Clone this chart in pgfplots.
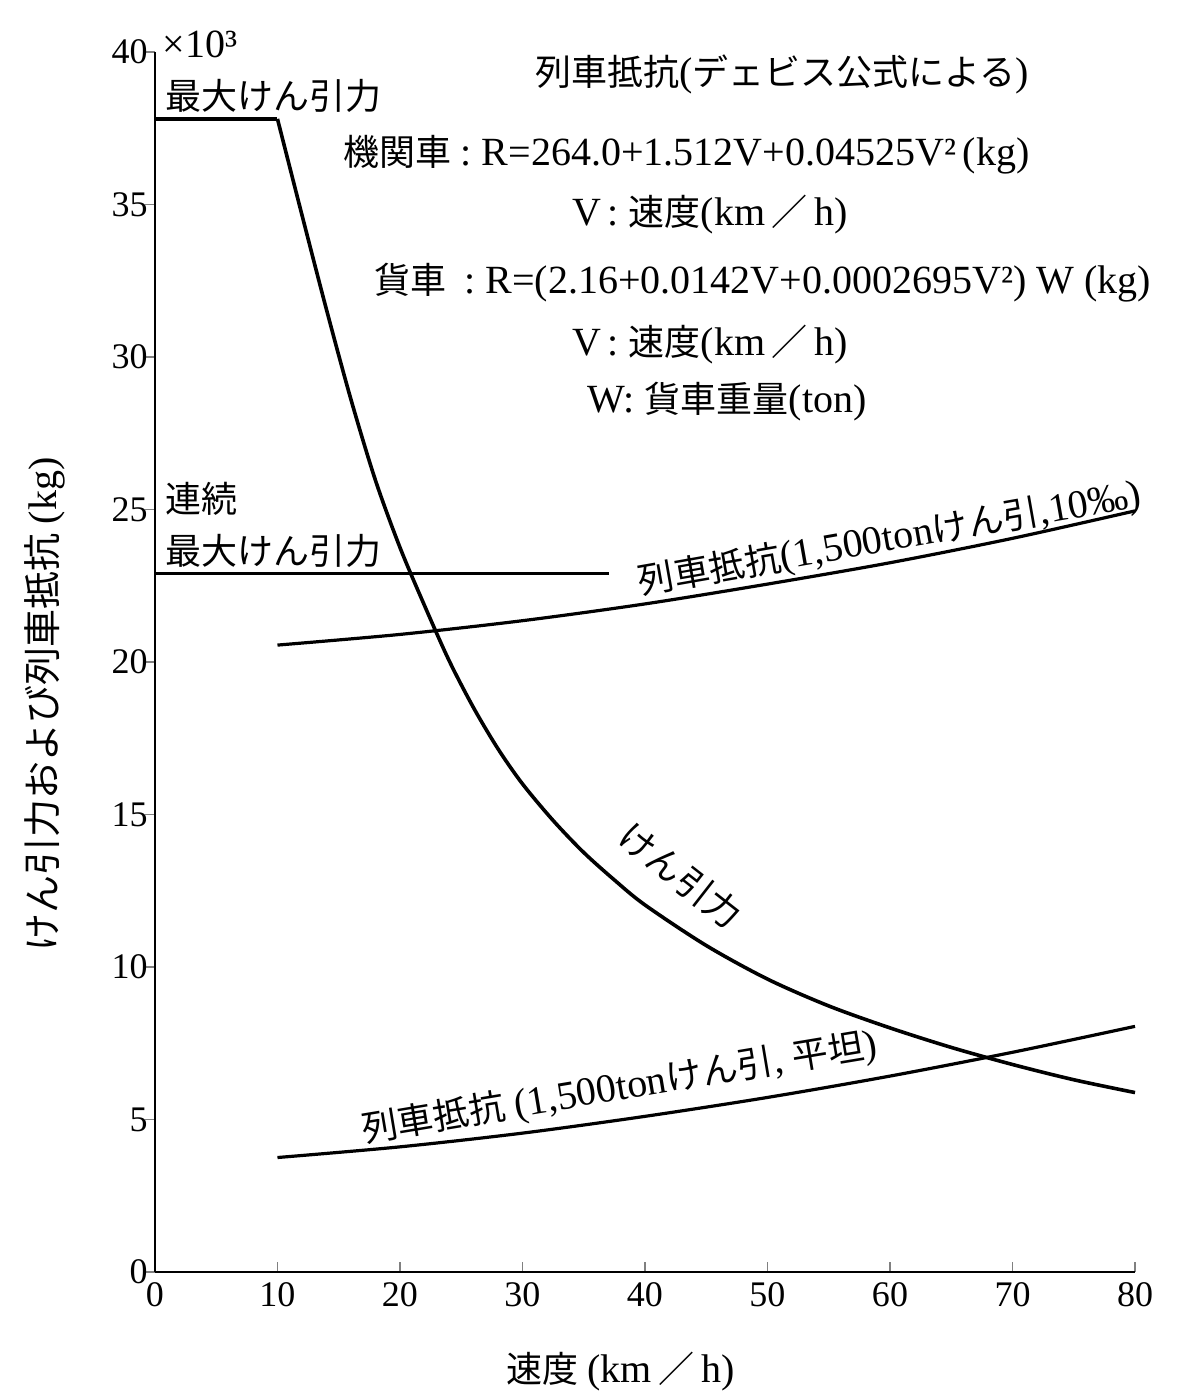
\documentclass[border=0pt]{standalone}
\usepackage{fontspec}
\setmainfont{Liberation Serif}
\newfontfamily\jp{Noto Sans CJK JP}
\usepackage{pgfplots}
\pgfplotsset{compat=1.18}
\newcommand{\lt}[1]{{\fontsize{20}{22}\selectfont #1}}
\begin{document}
\begin{tikzpicture}
\begin{axis}[
  width=490pt, height=610pt, scale only axis,
  xmin=0, xmax=80, ymin=0, ymax=40,
  axis lines=left,
  axis line style={line width=1pt,-},
  xtick={0,10,...,80}, ytick={0,5,...,40},
  tick align=inside,
  major tick length=5pt,
  ytick style={xshift=-5pt, line width=0.8pt},
  xtick style={line width=0.8pt},
  ticklabel style={font=\fontsize{18}{18}\selectfont},
  yticklabel style={xshift=-3.5pt},
  xticklabel style={yshift=-5pt},
  /pgf/number format/assume math mode=true,
  clip=false,
]
\path (axis cs:-12.65,-3.97) rectangle (axis cs:83.43,41.7);
% traction
\addplot[black, line width=1.8pt] coordinates {(0,37.8)(10,37.8)};
\addplot[black, line width=1.8pt, smooth] coordinates {
(10,37.8)(12,34.65)(14,31.55)(16,28.6)(18,25.95)(20,23.75)(22,21.85)(24,20.05)
(26,18.5)(28,17.15)(30,16.0)(32.5,14.8)(35,13.75)(37.5,12.85)(40,12.03)
(45,10.7)(50,9.6)(55,8.72)(60,8.0)(65,7.36)(70,6.8)(75,6.3)(80,5.88)};
% continuous max traction
\addplot[black, line width=1.3pt] coordinates {(0,22.9)(37.1,22.9)};
% resistance 10 permille
\addplot[black, line width=1.6pt, smooth] coordinates {
(10,20.55)(20,20.9)(30,21.35)(40,21.9)(50,22.55)(60,23.25)(70,24.05)(80,24.95)};
% resistance flat
\addplot[black, line width=1.6pt, smooth] coordinates {
(10,3.75)(20,4.1)(30,4.55)(40,5.1)(50,5.72)(60,6.42)(70,7.2)(80,8.05)};

\tikzset{every node/.style={font=\fontsize{18}{20}\selectfont, inner sep=0pt}}
\node[anchor=base west] at (axis cs:0.6,39.8) {\lt{×10³}};
\node[anchor=base west] at (axis cs:0.8,38.1) {\jp 最大けん引力};
\node[anchor=base west] at (axis cs:0.8,24.9) {\jp 連続};
\node[anchor=base west] at (axis cs:0.8,23.2) {\jp 最大けん引力};

\node at (axis cs:51.2,39.25) {{\jp 列車抵抗}\lt{(}{\jp デェビス公式による}\lt{)}};
\node at (axis cs:43.4,36.62) {{\jp 機関車}\ \lt{:\ R=264.0+1.512V+0.04525V²\,(kg)}};
\node at (axis cs:45.3,34.66) {\lt{V\,:\ }{\jp 速度}\lt{(km\,}{\jp ／}\lt{\,h)}};
\node at (axis cs:49.6,32.43) {{\jp 貨車}\ \ \lt{:\ R=(2.16+0.0142V+0.0002695V²)\ W\ (kg)}};
\node at (axis cs:45.3,30.39) {\lt{V\,:\ }{\jp 速度}\lt{(km\,}{\jp ／}\lt{\,h)}};
\node at (axis cs:46.7,28.52) {\lt{W:\ }{\jp 貨車重量}\lt{(ton)}};

\node[rotate=10] at (axis cs:60.0,24.0) {{\jp 列車抵抗}\lt{(1,500ton}{\jp けん引}\lt{,10‰)}};
\node[rotate=-38] at (axis cs:42.9,13.0) {\jp けん引力};
\node[rotate=9.5] at (axis cs:37.96,6.0) {{\jp 列車抵抗}\lt{ (1,500ton}{\jp けん引}\lt{, }{\jp 平坦}\lt{)}};

\node[rotate=90] at (axis cs:-9.0,18.6) {\fontsize{19}{20}\selectfont{\jp けん引力および列車抵抗}\ \lt{(kg)}};
\node at (axis cs:38,-3.28) {{\jp 速度}\ \lt{(km\,}{\jp ／}\lt{\,h)}};
\end{axis}
\end{tikzpicture}
\end{document}
